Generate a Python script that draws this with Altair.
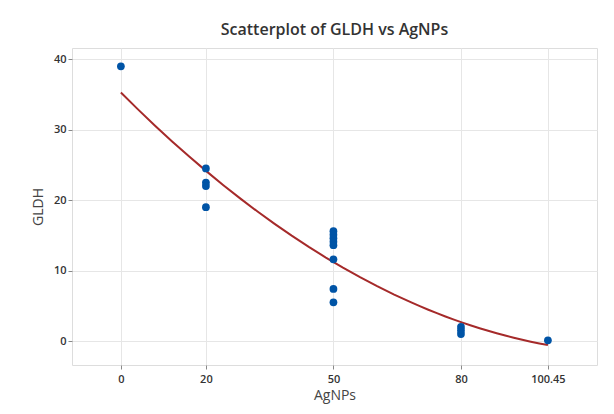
import altair as alt
import pandas as pd

agnps = [0, 20, 20, 20, 20, 50, 50, 50, 50, 50, 50, 50, 50, 80, 80, 80, 100.45]
gldh = [39.0, 24.5, 22.5, 22.0, 19.0, 15.6, 15.1, 14.6, 14.1, 13.6, 11.6, 7.4, 5.5, 2.0, 1.5, 1.0, 0.1]
x_ticks = [0, 20, 50, 80, 100.45]
y_ticks = [0, 10, 20, 30, 40]

df = pd.DataFrame({"AgNPs": agnps, "GLDH": gldh})

font = "Open Sans"
xs = alt.Scale(domain=[-11.5, 112], nice=False, zero=False)
ys = alt.Scale(domain=[-3.4, 41.6], nice=False, zero=False)

x_axis = alt.Axis(values=x_ticks, labelExpr="toString(datum.value)", domain=False, tickColor="#888", tickSize=4,
                  labelFont=font, labelFontSize=11, labelFontWeight=600, labelColor="#333",
                  titleFont=font, titleFontSize=14, titleFontWeight=500, titleColor="#444",
                  titlePadding=4, gridColor="#e6e6e6", labelPadding=4)
y_axis = alt.Axis(values=y_ticks, domain=False, tickColor="#888", tickSize=4,
                  labelFont=font, labelFontSize=11, labelFontWeight=600, labelColor="#333",
                  titleFont=font, titleFontSize=14, titleFontWeight=500, titleColor="#444",
                  titlePadding=8, gridColor="#e6e6e6")

points = alt.Chart(df).mark_circle(size=60, opacity=1, color="#0054a6").encode(
    x=alt.X("AgNPs:Q", scale=xs, axis=x_axis, title="AgNPs"),
    y=alt.Y("GLDH:Q", scale=ys, axis=y_axis, title="GLDH"),
)

fit = alt.Chart(df).transform_regression("AgNPs", "GLDH", method="poly", order=2).mark_line(
    color="#a52a2a", strokeWidth=2
).encode(
    x=alt.X("AgNPs:Q", scale=xs),
    y=alt.Y("GLDH:Q", scale=ys),
)

chart = (fit + points).properties(
    width=525, height=317,
    autosize=alt.AutoSizeParams(type="none"),
    padding={"left": 64, "top": 40, "right": 9, "bottom": 41},
    title=alt.TitleParams("Scatterplot of GLDH vs AgNPs", font=font, fontSize=16,
                          fontWeight=600, color="#333", offset=10, anchor="middle"),
).configure_view(stroke="#9a9a9a", strokeWidth=1).configure(background="white")

chart.save("out.html", embed_options={"renderer": "svg", "actions": False})
